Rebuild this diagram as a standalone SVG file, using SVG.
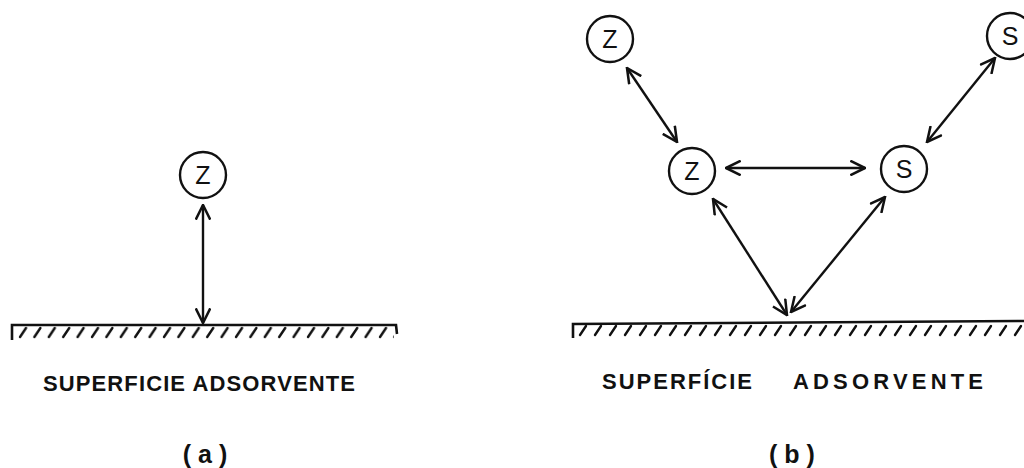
<svg xmlns="http://www.w3.org/2000/svg" width="1024" height="468" viewBox="0 0 1024 468">
<style>
.node circle{fill:#fff;stroke:#111;stroke-width:2.4}
.node text{font-family:"Liberation Sans",Arial,sans-serif;font-size:25px;fill:#111;text-anchor:middle}
.conn line{stroke:#111;stroke-width:2.4;marker-start:url(#ah);marker-end:url(#ah)}
.ground{stroke:#111;stroke-width:2.6;fill:none}
.hatch{stroke:#111;stroke-width:2.4;stroke-linecap:round}
.lbl{font-family:"Liberation Sans",Arial,sans-serif;font-weight:bold;font-size:22px;fill:#111}
.cap{font-family:"Liberation Sans",Arial,sans-serif;font-weight:bold;font-size:25px;fill:#111;text-anchor:middle}
</style>
<defs>
<marker id="ah" viewBox="0 0 12 12" refX="11" refY="6" markerWidth="7" markerHeight="7" orient="auto-start-reverse" markerUnits="strokeWidth">
<path d="M0.5,0.8 L11,6 L0.5,11.2" fill="none" stroke="#111" stroke-width="1.8"/>
</marker>
<pattern id="hat" width="14.4" height="14" patternUnits="userSpaceOnUse" x="18" y="326">
<line x1="2" y1="11" x2="8" y2="2" class="hatch"/>
</pattern>
<pattern id="hbt" width="15" height="14" patternUnits="userSpaceOnUse" x="578" y="324">
<line x1="2" y1="11" x2="8" y2="2" class="hatch"/>
</pattern>
</defs>

<!-- panel (a) -->
<g id="ground-a">
<path class="ground" d="M12,340 L12,325 L396,325 L397,334"/>
<rect x="18" y="326" width="376" height="13" fill="url(#hat)"/>
<text class="lbl" x="43" y="391" textLength="312" lengthAdjust="spacing">SUPERFICIE ADSORVENTE</text>
</g>
<g id="node-a-z" class="node"><circle cx="203" cy="175" r="23"/><text x="203" y="184">Z</text></g>
<text id="cap-a" class="cap" x="205" y="463">( a )</text>

<!-- panel (b) -->
<g id="ground-b">
<path class="ground" d="M573,338 L573,324 L1024,321"/>
<rect x="578" y="324" width="446" height="13" fill="url(#hbt)"/>
<text class="lbl" x="602" y="389" textLength="150" lengthAdjust="spacing">SUPERFÍCIE</text>
<text class="lbl" x="793" y="389" textLength="190" lengthAdjust="spacing">ADSORVENTE</text>
</g>
<g id="node-b-z1" class="node"><circle cx="610" cy="39" r="23"/><text x="610" y="48">Z</text></g>
<g id="node-b-s1" class="node"><circle cx="1010" cy="36" r="23"/><text x="1010" y="45">S</text></g>
<g id="node-b-z2" class="node"><circle cx="692" cy="171" r="23"/><text x="692" y="180">Z</text></g>
<g id="node-b-s2" class="node"><circle cx="904" cy="169" r="23"/><text x="904" y="178">S</text></g>
<text id="cap-b" class="cap" x="792" y="463">( b )</text>

<g id="connectors" class="conn">
<line x1="203" y1="205" x2="203" y2="323"/>
<line x1="627" y1="68" x2="677" y2="142"/>
<line x1="995" y1="58" x2="927" y2="142"/>
<line x1="726" y1="168" x2="865" y2="168"/>
<line x1="713" y1="199" x2="787" y2="315"/>
<line x1="885" y1="197" x2="791" y2="312"/>
</g>
</svg>
